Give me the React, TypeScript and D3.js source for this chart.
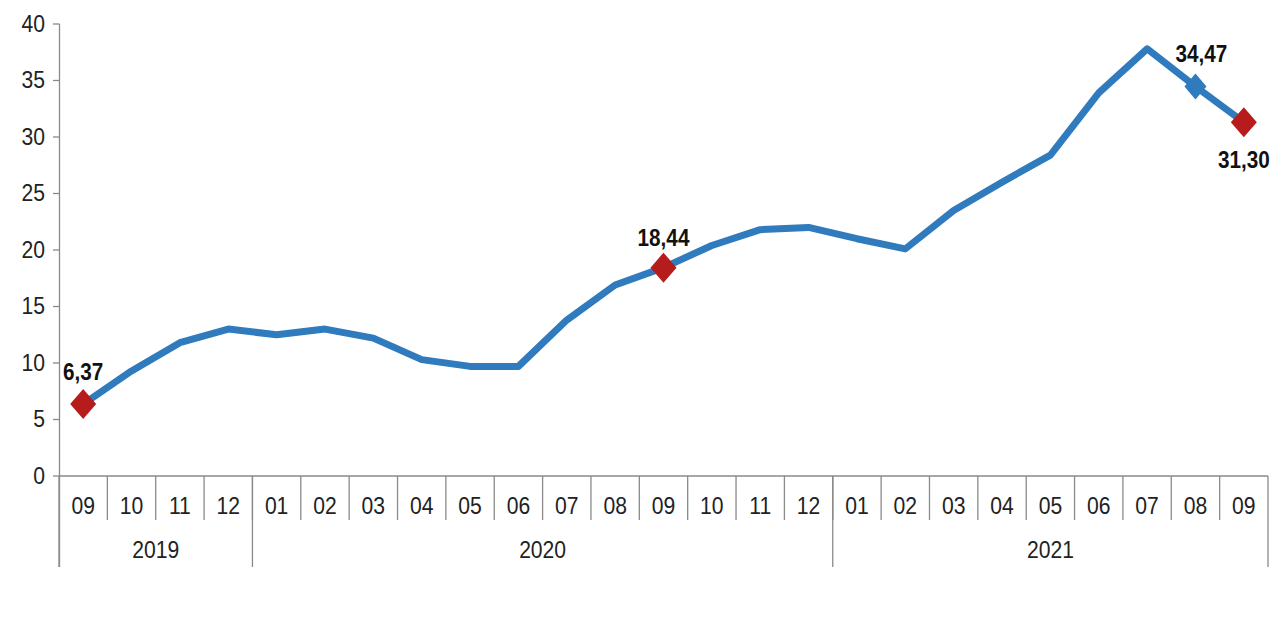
import React from "react";
import * as d3 from "d3";

const months = ["09","10","11","12","01","02","03","04","05","06","07","08","09","10","11","12","01","02","03","04","05","06","07","08","09"];
const values = [6.37, 9.3, 11.8, 13.0, 12.5, 13.0, 12.2, 10.3, 9.7, 9.7, 13.8, 16.9, 18.44, 20.4, 21.8, 22.0, 21.0, 20.1, 23.5, 26.0, 28.4, 33.9, 37.8, 34.47, 31.30];
const yearLabels = ["2019", "2020", "2021"];
const yearCounts = [4, 12, 9];
const yTicks = [0, 5, 10, 15, 20, 25, 30, 35, 40];
const redMarkers = [0, 12, 24];
const blueMarkers = [23];
const labelIdx = [0, 12, 23, 24];
const labelText = ["6,37", "18,44", "34,47", "31,30"];

const W = 1280, H = 640;
const LINE = "#2f7bbd";
const RED = "#b71c1c";
const AXIS = "#8a8a8a";
const FONT = "'Liberation Sans', Arial, sans-serif";

function Txt(props: { x: number; y: number; children: React.ReactNode; anchor?: string; bold?: boolean; size?: number; sx?: number }) {
  const { x, y, children, anchor = "middle", bold = false, size = 24, sx = 0.88 } = props;
  return (
    <text
      transform={`translate(${x},${y}) scale(${sx},1)`}
      textAnchor={anchor as any}
      dominantBaseline="central"
      fontFamily={FONT}
      fontSize={size}
      fontWeight={bold ? "bold" : "normal"}
      fill={bold ? "#111" : "#222"}
    >
      {children}
    </text>
  );
}

export default function App() {
  const x = d3.scaleBand<number>().domain(d3.range(months.length)).range([59, 1268]).padding(0);
  const y = d3.scaleLinear().domain([0, 40]).range([476, 24]);
  const cx = (i: number) => (x(i) as number) + x.bandwidth() / 2;
  const line = d3.line<number>().x((_, i) => cx(i)).y((d) => y(d));

  const axisY = y(0);
  const bottom = 567;
  const monthTickBottom = 520;

  // year boundaries
  const boundaries: number[] = [];
  let acc = 0;
  boundaries.push(x(0) as number);
  yearCounts.forEach((c) => {
    acc += c;
    boundaries.push(acc < months.length ? (x(acc) as number) : (x(months.length - 1) as number) + x.bandwidth());
  });

  const diamond = (px: number, py: number, hw: number, hh: number) =>
    `M${px},${py - hh}L${px + hw},${py}L${px},${py + hh}L${px - hw},${py}Z`;

  const labelOffsets: [number, number][] = [[0, -32], [0, -30], [6, -32], [0, 38]];

  return (
    <svg width={W} height={H} style={{ position: "absolute", left: 0, top: 0, background: "#fff" }}>
      <rect x={0} y={0} width={W} height={H} fill="#fff" />
      {/* y axis */}
      <line x1={59.5} x2={59.5} y1={y(40)} y2={bottom} stroke={AXIS} strokeWidth={1.3} />
      {yTicks.map((t) => (
        <g key={t}>
          <line x1={53} x2={59.5} y1={y(t)} y2={y(t)} stroke={AXIS} strokeWidth={1.3} />
          <Txt x={45} y={y(t)} anchor="end">{t}</Txt>
        </g>
      ))}
      {/* x axis */}
      <line x1={59} x2={1268} y1={axisY} y2={axisY} stroke={AXIS} strokeWidth={1.5} />
      {months.map((_, i) =>
        i > 0 ? (
          <line key={"mt" + i} x1={x(i) as number} x2={x(i) as number} y1={axisY} y2={monthTickBottom} stroke={AXIS} strokeWidth={1.3} />
        ) : null
      )}
      {boundaries.map((b, i) => (
        <line key={"yb" + i} x1={b} x2={b} y1={axisY} y2={bottom} stroke={AXIS} strokeWidth={1.3} />
      ))}
      {months.map((m, i) => (
        <Txt key={"ml" + i} x={cx(i)} y={506}>{m}</Txt>
      ))}
      {yearLabels.map((yl, i) => (
        <Txt key={yl} x={(boundaries[i] + boundaries[i + 1]) / 2} y={550}>{yl}</Txt>
      ))}
      {/* series */}
      <path d={line(values) || ""} fill="none" stroke={LINE} strokeWidth={7} strokeLinejoin="round" strokeLinecap="butt" />
      {blueMarkers.map((i) => (
        <path key={"b" + i} d={diamond(cx(i), y(values[i]), 11, 13)} fill={LINE} />
      ))}
      {redMarkers.map((i) => (
        <path key={"r" + i} d={diamond(cx(i), y(values[i]), 13, 15)} fill={RED} />
      ))}
      {labelIdx.map((i, k) => (
        <Txt key={"dl" + i} x={cx(i) + labelOffsets[k][0]} y={y(values[i]) + labelOffsets[k][1]} bold size={23} sx={0.9}>
          {labelText[k]}
        </Txt>
      ))}
    </svg>
  );
}
